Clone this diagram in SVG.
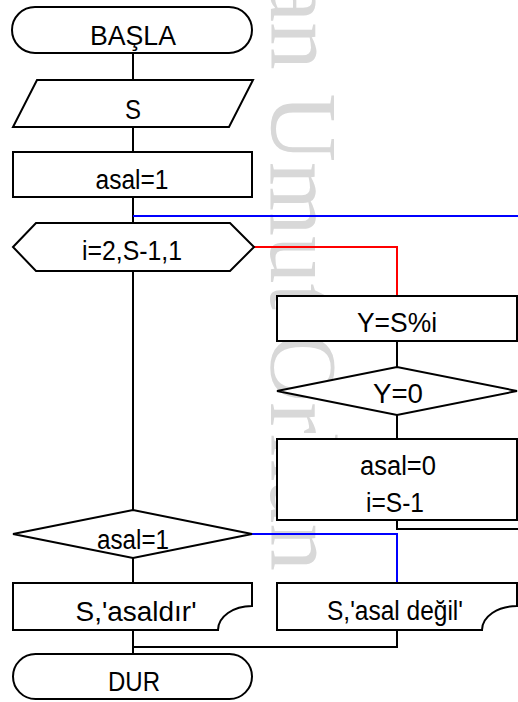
<svg xmlns="http://www.w3.org/2000/svg" width="518" height="702" viewBox="0 0 518 702">
  <style>
    .shape { fill: #ffffff; stroke: #000000; stroke-width: 2; stroke-linejoin: miter; }
    .link { fill: none; stroke: #000000; stroke-width: 2; }
    .yes { fill: none; stroke: #ff0000; stroke-width: 2; }
    .loop { fill: none; stroke: #0000ff; stroke-width: 2; }
    .label { font-family: "Liberation Sans", Arial, sans-serif; font-size: 27px; fill: #000000; text-anchor: middle; }
    .mark { font-family: "Liberation Serif", "Times New Roman", serif; font-size: 95px; fill: #d8d8d8; }
  </style>

  <rect width="518" height="702" fill="#ffffff"/>

  <!-- author mark, rotated -->
  <text class="mark" transform="translate(271,-20) rotate(90)">an Umut Orhan</text>

  <!-- connectors -->
  <g id="connectors">
    <path class="link" d="M133,53 V80"/>
    <path class="link" d="M133,127 V152"/>
    <path class="link" d="M133,197 V223"/>
    <path class="loop" d="M133,216 H518"/>
    <path class="yes" d="M254,247 H397 V296"/>
    <path class="link" d="M397,341 V367"/>
    <path class="link" d="M397,415 V439"/>
    <path class="link" d="M397,520 V529 H518"/>
    <path class="link" d="M133,271 V510"/>
    <path class="loop" d="M252,534 H397 V583"/>
    <path class="link" d="M133,558 V583"/>
    <path class="link" d="M133,630 V654"/>
    <path class="link" d="M397,630 V647 H133"/>
  </g>

  <g id="start">
    <rect class="shape" x="12" y="7" width="240" height="46" rx="23" ry="23"/>
    <text class="label" x="133" y="45" textLength="86" lengthAdjust="spacingAndGlyphs">BAŞLA</text>
  </g>

  <g id="input-s">
    <polygon class="shape" points="37,80 253,80 229,127 13,127"/>
    <text class="label" x="133" y="119" textLength="16" lengthAdjust="spacingAndGlyphs">S</text>
  </g>

  <g id="init-asal">
    <rect class="shape" x="13" y="152" width="239" height="45"/>
    <text class="label" x="132" y="189" textLength="73" lengthAdjust="spacingAndGlyphs">asal=1</text>
  </g>

  <g id="loop-i">
    <polygon class="shape" points="13,247 36,223 230,223 254,247 230,271 36,271"/>
    <text class="label" x="132" y="260" textLength="100" lengthAdjust="spacingAndGlyphs">i=2,S-1,1</text>
  </g>

  <g id="calc-y">
    <rect class="shape" x="277" y="296" width="240" height="45"/>
    <text class="label" x="397" y="332" textLength="80" lengthAdjust="spacingAndGlyphs">Y=S%i</text>
  </g>

  <g id="test-y">
    <polygon class="shape" points="277,391 397,367 517,391 397,415"/>
    <text class="label" x="398" y="403" textLength="50" lengthAdjust="spacingAndGlyphs">Y=0</text>
  </g>

  <g id="set-asal0">
    <rect class="shape" x="277" y="439" width="240" height="81"/>
    <text class="label" x="398" y="475" textLength="76" lengthAdjust="spacingAndGlyphs">asal=0</text>
    <text class="label" x="395" y="512" textLength="58" lengthAdjust="spacingAndGlyphs">i=S-1</text>
  </g>

  <g id="test-asal">
    <polygon class="shape" points="13,534 133,510 252,534 133,558"/>
    <text class="label" x="133" y="549" textLength="72" lengthAdjust="spacingAndGlyphs">asal=1</text>
  </g>

  <g id="out-prime">
    <path class="shape" d="M13,583 H252 V606 A34,24 0 0 0 218,630 H13 Z"/>
    <text class="label" x="136" y="621" textLength="121" lengthAdjust="spacingAndGlyphs">S,'asaldır'</text>
  </g>

  <g id="out-not-prime">
    <path class="shape" d="M277,583 H517 V606 A35,24 0 0 0 482,630 H277 Z"/>
    <text class="label" x="395" y="620" textLength="136" lengthAdjust="spacingAndGlyphs">S,'asal değil'</text>
  </g>

  <g id="end">
    <rect class="shape" x="13" y="654" width="239" height="45" rx="22.5" ry="22.5"/>
    <text class="label" x="134" y="691" textLength="52" lengthAdjust="spacingAndGlyphs">DUR</text>
  </g>
</svg>
